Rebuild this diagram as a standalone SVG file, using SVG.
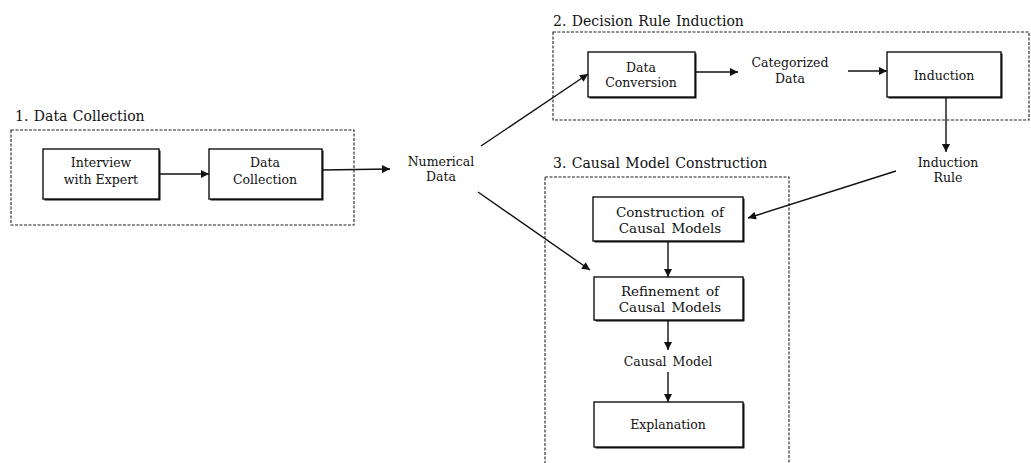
<svg xmlns="http://www.w3.org/2000/svg" width="1031" height="463" viewBox="0 0 1031 463">
<defs>
<style>
.grp{fill:none;stroke:#222;stroke-width:1.1;stroke-dasharray:3 1.5}
.box{fill:#fff;stroke:#111;stroke-width:1.4}
.sh{fill:#111}
.t{font-family:"DejaVu Serif","Liberation Serif",serif;font-size:12.5px;fill:#111;text-anchor:middle}
.w{font-size:13.5px;word-spacing:2px}
.lbl{font-family:"DejaVu Serif","Liberation Serif",serif;font-size:14px;fill:#111;word-spacing:1px}
.c{fill:none;stroke:#111;stroke-width:1.4;marker-end:url(#ah)}
</style>
<marker id="ah" viewBox="0 0 10 10" refX="10" refY="5" markerWidth="10" markerHeight="8" markerUnits="userSpaceOnUse" orient="auto">
<path d="M0,0 L10,5 L0,10 z" fill="#111"/>
</marker>
</defs>
<rect width="1031" height="463" fill="#fff"/>

<g id="group1">
<rect class="grp" x="11" y="130" width="343" height="95"/>
<text class="lbl" x="15" y="121">1. Data Collection</text>
</g>
<g id="group2">
<rect class="grp" x="553" y="32" width="476" height="88"/>
<text class="lbl" x="553" y="26">2. Decision Rule Induction</text>
</g>
<g id="group3">
<rect class="grp" x="545" y="177" width="244" height="300"/>
<text class="lbl" x="553" y="168">3. Causal Model Construction</text>
</g>

<g id="interview">
<rect class="sh" x="44.5" y="150.5" width="116" height="50"/>
<rect class="box" x="43" y="149" width="116" height="50"/>
<text class="t" x="101" y="167">Interview</text>
<text class="t" x="101" y="184">with Expert</text>
</g>
<g id="datacollection">
<rect class="sh" x="210.5" y="150.5" width="113" height="50"/>
<rect class="box" x="209" y="149" width="113" height="50"/>
<text class="t" x="265" y="167">Data</text>
<text class="t" x="265" y="184">Collection</text>
</g>
<g id="numerical">
<text class="t" x="441" y="166">Numerical</text>
<text class="t" x="441" y="181">Data</text>
</g>
<g id="dataconversion">
<rect class="sh" x="589.5" y="53.5" width="107" height="45"/>
<rect class="box" x="588" y="52" width="107" height="45"/>
<text class="t" x="641" y="72">Data</text>
<text class="t" x="641" y="87">Conversion</text>
</g>
<g id="categorized">
<text class="t" x="790" y="67">Categorized</text>
<text class="t" x="790" y="83">Data</text>
</g>
<g id="induction">
<rect class="sh" x="888.5" y="53.5" width="114" height="45"/>
<rect class="box" x="887" y="52" width="114" height="45"/>
<text class="t" x="944" y="80">Induction</text>
</g>
<g id="inductionrule">
<text class="t" x="948" y="167">Induction</text>
<text class="t" x="948" y="182">Rule</text>
</g>
<g id="construction">
<rect class="sh" x="594.5" y="198.5" width="150" height="44"/>
<rect class="box" x="593" y="197" width="150" height="44"/>
<text class="t w" x="670" y="217">Construction of</text>
<text class="t w" x="670" y="233">Causal Models</text>
</g>
<g id="refinement">
<rect class="sh" x="595.5" y="278.5" width="149" height="43"/>
<rect class="box" x="594" y="277" width="149" height="43"/>
<text class="t w" x="670" y="296">Refinement of</text>
<text class="t w" x="670" y="312">Causal Models</text>
</g>
<g id="causalmodel">
<text class="t" x="668" y="366" style="word-spacing:2px">Causal Model</text>
</g>
<g id="explanation">
<rect class="sh" x="595.5" y="403.5" width="149" height="45"/>
<rect class="box" x="594" y="402" width="149" height="45"/>
<text class="t" x="668" y="429">Explanation</text>
</g>

<g id="connectors">
<line class="c" x1="159" y1="174" x2="209" y2="174"/>
<line class="c" x1="322" y1="170" x2="390" y2="169"/>
<line class="c" x1="481" y1="146" x2="588" y2="74"/>
<line class="c" x1="478" y1="192" x2="590" y2="270"/>
<line class="c" x1="695" y1="72" x2="738" y2="72"/>
<line class="c" x1="848" y1="71" x2="887" y2="71"/>
<line class="c" x1="946" y1="97" x2="946" y2="152"/>
<line class="c" x1="896" y1="171" x2="748" y2="218"/>
<line class="c" x1="668" y1="241" x2="668" y2="277"/>
<line class="c" x1="668" y1="320" x2="668" y2="350"/>
<line class="c" x1="668" y1="372" x2="668" y2="402"/>
</g>
</svg>
